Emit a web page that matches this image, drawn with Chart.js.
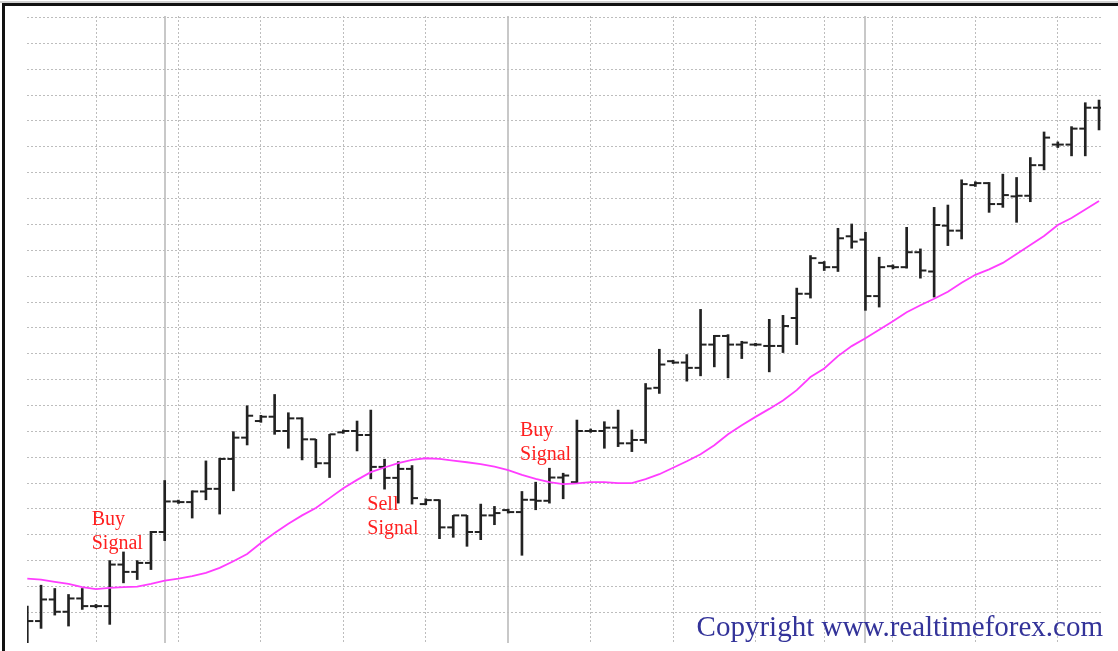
<!DOCTYPE html>
<html><head><meta charset="utf-8">
<script src="https://cdn.jsdelivr.net/npm/chart.js@4.4.0/dist/chart.umd.min.js"></script>
<style>
html,body{margin:0;padding:0;background:#fff;overflow:hidden}
#wrap{position:relative;width:1118px;height:651px}
#topline{position:absolute;left:0;top:1px;width:1118px;height:2px;background:#d0d0d0}
#frame{position:absolute;left:2px;top:3px;width:1116px;height:648px;border-left:3px solid #111;border-top:3px solid #111;box-sizing:border-box;pointer-events:none}
canvas{position:absolute;left:0;top:0}
</style></head><body>
<div id="wrap"><canvas id="c" width="1118" height="651"></canvas><div id="topline"></div><div id="frame"></div></div>
<script>
// OHLC values (one per bar, 79 bars)
const opens = [-7.2,-3.33,5.02,0.27,5.41,2.45,2.45,18.51,15.68,19.15,31.1,42.91,42.66,46.77,47.79,59.35,67.58,74.0,75.67,70.14,75.03,66.93,57.68,69.63,70.14,68.6,56.27,52.03,55.5,41.89,43.43,32.89,37.52,31.1,37.52,39.57,38.8,43.56,43.17,52.16,50.36,70.14,70.14,71.43,65.39,66.68,86.85,97.13,96.61,94.56,103.55,106.89,103.55,103.55,103.03,103.03,113.82,123.2,135.15,133.48,145.42,144.14,122.3,133.86,133.48,139.26,131.8,149.53,147.6,165.2,165.97,157.88,160.84,161.09,172.91,180.87,180.87,187.04,195.13];
const highs = [2.45,10.54,9.26,6.95,9.26,3.09,20.05,23.39,20.05,31.35,51.01,43.43,47.02,58.58,59.61,69.89,79.91,76.2,84.27,77.21,75.28,66.93,68.86,70.53,74.0,78.24,59.23,58.33,56.79,43.94,43.56,37.52,37.52,41.89,40.99,39.96,46.77,50.36,55.76,53.83,74.38,70.92,73.74,78.24,70.53,88.51,101.75,97.51,99.69,117.16,107.14,107.4,104.83,104.06,113.31,114.85,125.39,137.97,135.66,148.51,150.18,146.96,137.33,134.38,148.89,140.54,156.6,157.5,167.26,166.49,166.23,169.44,168.16,175.86,185.75,181.9,187.81,197.06,198.09];
const lows = [-11.7,-6.16,-1.02,-5.26,1.17,1.81,-4.61,11.44,12.73,16.58,27.76,42.14,36.49,43.56,38.03,47.02,64.75,73.5,68.86,63.47,58.97,56.01,52.16,69.25,62.44,51.65,47.67,42.27,41.89,41.63,28.53,29.04,25.57,28.14,33.92,38.42,22.1,39.7,42.27,43.94,49.98,69.63,63.47,64.11,62.18,65.39,84.67,96.23,89.42,91.47,94.94,90.7,98.15,103.03,93.01,100.47,103.55,121.53,132.19,131.81,140.8,116.78,118.06,132.84,133.09,129.24,121.91,141.82,144.39,164.69,154.67,156.6,150.82,158.78,171.11,179.72,176.51,176.51,186.53];
const closes = [-3.33,5.02,0.27,5.41,2.45,2.45,18.51,15.68,19.15,31.1,42.91,42.66,46.77,47.79,59.35,67.58,76.05,75.67,70.14,75.03,66.93,57.68,68.86,70.14,68.6,56.27,52.03,55.5,44.2,43.43,32.89,37.52,31.1,37.52,38.42,38.8,43.56,43.17,52.16,52.93,70.14,70.14,71.43,65.39,66.68,86.59,95.84,96.61,94.56,103.55,106.89,103.55,104.32,103.55,103.03,110.74,123.2,136.95,133.48,144.65,143.37,122.3,133.48,133.48,139.26,132.19,149.79,147.6,165.59,165.97,157.88,161.35,161.09,172.91,183.57,180.87,187.04,195.13,195.13];
// moving average line
const movingAverage = [13.10,12.72,11.83,11.06,9.79,9.02,9.52,9.79,10.02,11.06,12.33,13.10,14.03,15.30,17.23,19.81,22.62,26.86,30.71,34.30,37.53,40.35,44.20,48.05,51.25,54.22,56.03,57.69,58.96,59.61,59.34,58.73,58.07,57.30,56.42,54.99,53.18,51.64,50.37,49.60,49.87,50.37,50.37,49.98,49.98,51.52,53.45,55.95,58.46,61.16,64.62,68.86,72.33,75.61,78.69,81.97,85.93,91.02,94.30,99.11,102.97,105.97,109.33,112.60,116.07,118.77,121.27,123.97,127.44,130.52,132.64,135.14,138.61,142.08,145.55,149.79,152.49,155.76,159.04];
// grid positions
const priceGridLevels = [0,10,20,30,40,50,60,70,80,90,100,110,120,130,140,150,160,170,180,190,200,210,220,230];
const dottedTimeLines = [5,11,17,23,29,41,47,53,58,63,69,75];
const solidTimeLines = [10,35,61];
// signal annotations (bar index, price of first baseline)
const signalNames = [["Buy","Signal"],["Sell","Signal"],["Buy","Signal"]];
const signalX = [4.69, 24.75, 35.86];
const signalY = [33.75, 39.42, 68.05];
const copyrightText = "Copyright www.realtimeforex.com";

const X_MIN = -0.022, X_MAX = 78.144, Y_MIN = -11.81, Y_MAX = 230.58;
const idx = opens.map((_, i) => i);

const textPlugin = {
  id: 'texts',
  afterDatasetsDraw(chart) {
    const ctx = chart.ctx, xs = chart.scales.x, ys = chart.scales.y;
    ctx.save();
    ctx.fillStyle = '#ff1f1f';
    ctx.font = '20px "Liberation Serif", "Times New Roman", serif';
    ctx.textAlign = 'left';
    ctx.textBaseline = 'alphabetic';
    signalNames.forEach((lines, k) => {
      const px = xs.getPixelForValue(signalX[k]);
      const py = ys.getPixelForValue(signalY[k]);
      lines.forEach((t, j) => ctx.fillText(t, px, py + j * 23.5));
    });
    ctx.fillStyle = '#333399';
    ctx.font = '29px "Liberation Serif", "Times New Roman", serif';
    ctx.textAlign = 'right';
    ctx.fillText(copyrightText, 1103, 636);
    ctx.restore();
  }
};

const hiddenTicks = {display: false};
new Chart(document.getElementById('c'), {
  type: 'bar',
  data: {
    datasets: [
      {
        type: 'line', label: 'Moving average', order: 0,
        data: idx.map(i => ({x: i, y: movingAverage[i]})),
        borderColor: '#ff3dff', borderWidth: 1.8, pointRadius: 0, tension: 0,
        xAxisID: 'x', yAxisID: 'y'
      },
      {
        type: 'scatter', label: 'Open', order: 1,
        data: idx.map(i => ({x: i, y: opens[i]})),
        pointStyle: 'dash', rotation: 180, pointRadius: 6, borderWidth: 2,
        borderColor: '#222', backgroundColor: '#222',
        xAxisID: 'x', yAxisID: 'y'
      },
      {
        type: 'scatter', label: 'Close', order: 1,
        data: idx.map(i => ({x: i, y: closes[i]})),
        pointStyle: 'dash', rotation: 0, pointRadius: 6, borderWidth: 2,
        borderColor: '#222', backgroundColor: '#222',
        xAxisID: 'x', yAxisID: 'y'
      },
      {
        type: 'bar', label: 'High-Low', order: 2,
        data: idx.map(i => ({x: i, y: [lows[i], highs[i]]})),
        backgroundColor: '#222', borderWidth: 0, barThickness: 2, grouped: false,
        xAxisID: 'x', yAxisID: 'y'
      }
    ]
  },
  options: {
    responsive: false, animation: false, events: [],
    layout: {padding: {left: 27, right: 17, top: 16, bottom: 6}},
    plugins: {legend: {display: false}, tooltip: {enabled: false}},
    scales: {
      x: {
        type: 'linear', position: 'bottom', min: X_MIN, max: X_MAX, offset: false,
        ticks: hiddenTicks,
        afterBuildTicks: s => { s.ticks = dottedTimeLines.map(v => ({value: v})); },
        grid: {color: '#bdbdbd', lineWidth: 1, drawTicks: false, offset: false},
        border: {display: false, dash: [2, 2]}
      },
      x2: {
        type: 'linear', position: 'bottom', min: X_MIN, max: X_MAX, offset: false,
        ticks: hiddenTicks,
        afterBuildTicks: s => { s.ticks = solidTimeLines.map(v => ({value: v})); },
        grid: {color: '#c8c8c8', lineWidth: 2, drawTicks: false, offset: false},
        border: {display: false}
      },
      y: {
        type: 'linear', position: 'left', min: Y_MIN, max: Y_MAX, beginAtZero: false,
        ticks: hiddenTicks,
        afterBuildTicks: s => { s.ticks = priceGridLevels.map(v => ({value: v})); },
        grid: {color: '#bdbdbd', lineWidth: 1, drawTicks: false},
        border: {display: false, dash: [2, 2]}
      }
    }
  },
  plugins: [textPlugin]
});
</script>
</body></html>
